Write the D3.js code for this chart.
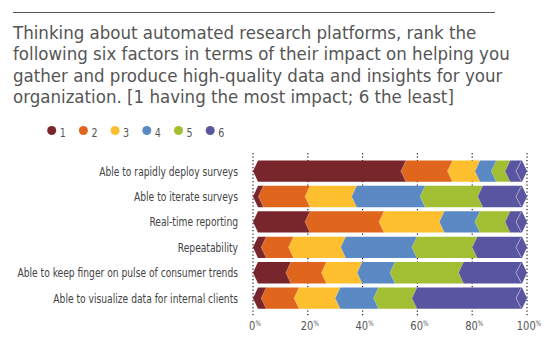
<!DOCTYPE html>
<html>
<head>
<meta charset="utf-8">
<script src="https://cdn.jsdelivr.net/npm/d3@7"></script>
<style>
  body { margin: 0; background: #fff; }
  svg { display: block; }
</style>
</head>
<body>
<div id="chart"></div>
<script>
// stacked ranking bars with chevron segments

// data
const categories = [
  "Able to rapidly deploy surveys",
  "Able to iterate surveys",
  "Real-time reporting",
  "Repeatability",
  "Able to keep finger on pulse of consumer trends",
  "Able to visualize data for internal clients"
];
const ranks = ["1", "2", "3", "4", "5", "6"];
const rank1 = [54, 2, 19, 3, 12, 3];
const rank2 = [17, 17, 27, 10, 13, 12];
const rank3 = [10, 17, 22, 19, 13, 15];
const rank4 = [6, 25, 13, 26, 12, 14];
const rank5 = [5, 21, 11, 22, 25, 14];
const rank6 = [8, 18, 8, 20, 25, 42];
const tickValues = [0, 20, 40, 60, 80, 100];
const titleLines = [
  "Thinking about automated research platforms, rank the",
  "following six factors in terms of their impact on helping you",
  "gather and produce high-quality data and insights for your",
  "organization. [1 having the most impact; 6 the least]"
];

const colors = ["#78262b", "#e0661e", "#fdbf2d", "#5a89c4", "#a2be33", "#5a55a0"];
const condensed = "'DejaVu Sans Condensed', sans-serif";
const textColor = "#555";

const w = 549, h = 353;
const d = 5; // chevron depth

const table = categories.map((c, i) => {
  const row = {category: c};
  [rank1, rank2, rank3, rank4, rank5, rank6].forEach((s, j) => row[ranks[j]] = s[i]);
  return row;
});
const stacked = d3.stack().keys(ranks)(table);

// scales
const x = d3.scaleLinear().domain([0, 100]).range([253, 527]);
const y = d3.scaleBand().domain(categories).range([156.4, 312.9]).paddingInner(0.16).paddingOuter(0.16);

const svg = d3.select("#chart").append("svg")
  .attr("width", w)
  .attr("height", h);

// top rule
svg.append("line")
  .attr("x1", 13).attr("x2", 495)
  .attr("y1", 12.5).attr("y2", 12.5)
  .attr("stroke", "#555")
  .attr("stroke-width", 1);

// title
svg.append("g")
  .selectAll("text")
  .data(titleLines)
  .join("text")
    .attr("x", 13)
    .attr("y", (t, i) => 38.5 + i * 21.5)
    .style("font-family", condensed)
    .style("font-size", "18.5px")
    .style("fill", textColor)
    .text(t => t);

// legend
const legend = svg.append("g")
  .selectAll("g")
  .data(ranks)
  .join("g")
    .attr("transform", (r, i) => `translate(${51.7 + i * 31.7},130.5)`);
legend.append("circle")
  .attr("r", 4.5)
  .attr("fill", (r, i) => colors[i]);
legend.append("g")
  .attr("transform", "translate(8,6) scale(0.85,1)")
  .append("text")
  .style("font-family", condensed)
  .style("font-size", "12.5px")
  .style("fill", textColor)
  .text(r => r);

// dotted gridlines
svg.append("g")
  .selectAll("line")
  .data(tickValues)
  .join("line")
    .attr("x1", v => x(v)).attr("x2", v => x(v))
    .attr("y1", 153).attr("y2", 316)
    .attr("stroke", "#222")
    .attr("stroke-width", 1.2)
    .attr("stroke-dasharray", "1.2,2.3");

// segment shape: "<" on the left, ">" on the right for the last one
function segPath(s, e, top, bh, last) {
  const mid = top + bh / 2, bot = top + bh;
  if (last) {
    return `M${s},${mid}L${s + d},${top}L${e - d},${top}L${e},${mid}L${e - d},${bot}L${s + d},${bot}Z`;
  }
  return `M${s},${mid}L${s + d},${top}L${e + d},${top}L${e + d},${bot}L${s + d},${bot}Z`;
}

const layers = svg.append("g")
  .selectAll("g")
  .data(stacked)
  .join("g")
    .attr("fill", (s, i) => colors[i]);

layers.selectAll("path")
  .data(s => s.map(p => ({p: p, last: s.index === ranks.length - 1})))
  .join("path")
    .attr("d", o => segPath(x(o.p[0]), x(o.p[1]), y(o.p.data.category), y.bandwidth(), o.last));

// light edge along each chevron
layers.selectAll("path.edge")
  .data(s => s.index === 0 ? [] : s.map(p => p))
  .join("path")
    .attr("class", "edge")
    .attr("d", p => {
      const s = x(p[0]), top = y(p.data.category), bh = y.bandwidth();
      return `M${s + d},${top}L${s},${top + bh / 2}L${s + d},${top + bh}`;
    })
    .attr("fill", "none")
    .attr("stroke", "#fff")
    .attr("stroke-opacity", 0.35)
    .attr("stroke-width", 0.8);

// decorative chevron near the end of each bar
svg.append("g")
  .selectAll("path")
  .data(categories)
  .join("path")
    .attr("d", c => {
      const s = x(100) - 2.2 * d, top = y(c), bh = y.bandwidth();
      return `M${s + d},${top + 1}L${s},${top + bh / 2}L${s + d},${top + bh - 1}`;
    })
    .attr("fill", "none")
    .attr("stroke", "#fff")
    .attr("stroke-opacity", 0.55)
    .attr("stroke-width", 0.9);

// category labels, squeezed horizontally to mimic the condensed face
const labels = svg.append("g")
  .selectAll("g")
  .data(categories)
  .join("g")
    .attr("transform", c => `translate(238,${y(c) + y.bandwidth() / 2 + 4.5})`);
const labelText = labels.append("text")
  .attr("text-anchor", "end")
  .style("font-family", condensed)
  .style("font-size", "13px")
  .style("fill", "#444")
  .text(c => c);
const widest = d3.max(labelText.nodes(), n => n.getComputedTextLength());
const squeeze = 221 / widest;
labelText.attr("transform", `scale(${squeeze},1)`);

// x tick labels with small raised %
const tickText = svg.append("g")
  .selectAll("g")
  .data(tickValues)
  .join("g")
    .attr("transform", v => `translate(${x(v) + 2},330) scale(0.85,1)`)
  .append("text")
    .attr("text-anchor", "middle")
    .style("font-family", condensed)
    .style("font-size", "13px")
    .style("fill", textColor);
tickText.append("tspan").text(v => v);
tickText.append("tspan")
  .attr("dy", -4.5)
  .style("font-size", "7.5px")
  .text("%");
</script>
</body>
</html>
